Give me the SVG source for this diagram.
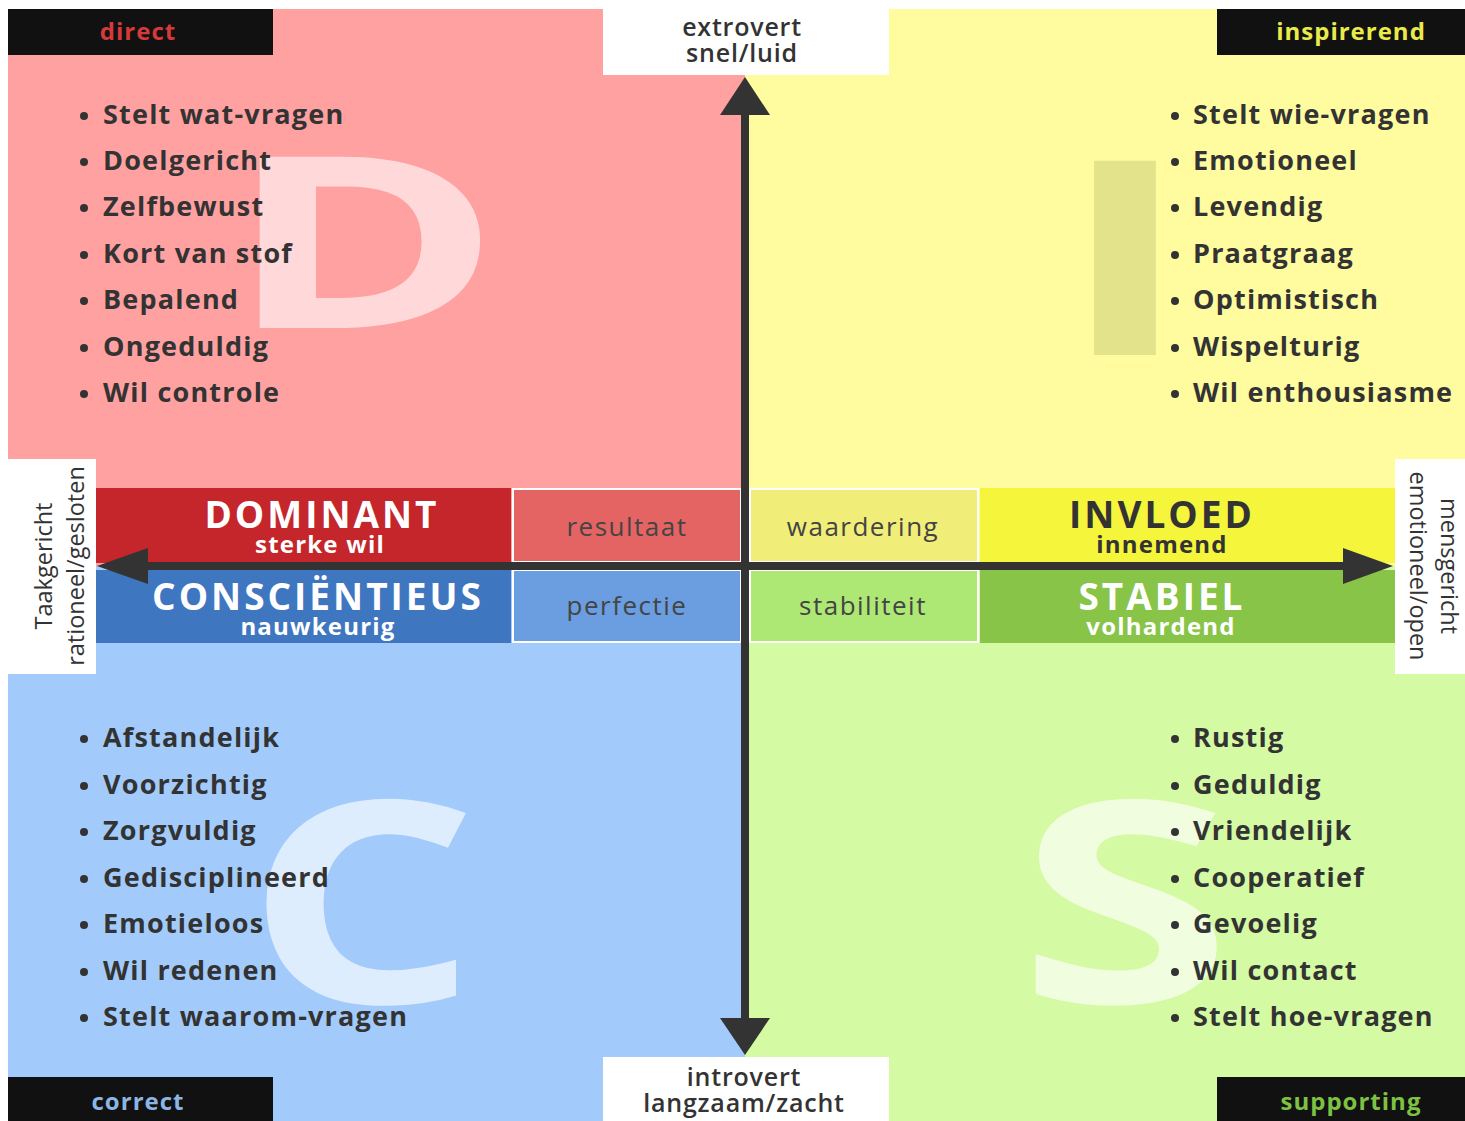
<svg xmlns="http://www.w3.org/2000/svg" width="1465" height="1121" viewBox="0 0 1465 1121">
<defs>
<style>
.li{font-family:"Open Sans",sans-serif;font-weight:700;font-size:27px;fill:#333;letter-spacing:1.2px}
.dot{fill:#333}
.big{font-family:"Open Sans",sans-serif;font-weight:700;fill:#fff;text-anchor:middle}
.tag{font-family:"Open Sans",sans-serif;font-weight:700;font-size:24px;text-anchor:middle;letter-spacing:1px}
.ax{font-family:"Open Sans",sans-serif;font-weight:600;font-size:25px;fill:#333;text-anchor:middle;letter-spacing:0.8px}
.side{font-family:"Open Sans",sans-serif;font-weight:400;font-size:23.5px;fill:#333;text-anchor:middle}
.hd{font-family:"Open Sans",sans-serif;font-weight:700;font-size:37px;text-anchor:middle;letter-spacing:3px}
.sub{font-family:"Open Sans",sans-serif;font-weight:700;font-size:24px;text-anchor:middle;letter-spacing:1.2px}
.mid{font-family:"Open Sans",sans-serif;font-weight:400;font-size:26px;fill:#444;text-anchor:middle;letter-spacing:1.5px}
.mbox{stroke:#fff;stroke-width:2}
</style>
</defs>
<rect width="1465" height="1121" fill="#fff"/>
<g id="quadrants">
<rect x="8" y="9" width="737" height="557" fill="#FFA1A1"/>
<rect x="745" y="9" width="720" height="557" fill="#FFFB9F"/>
<rect x="8" y="566" width="737" height="555" fill="#A2CBFB"/>
<rect x="745" y="566" width="720" height="555" fill="#D4FAA3"/>
</g>
<g id="letters">
<text class="big" x="364" y="328" font-size="240" fill-opacity="0.6" transform="translate(364 0) scale(1.55 1) translate(-364 0)">D</text>
<text x="1125" y="355" font-family="Open Sans, sans-serif" font-weight="700" font-size="272" fill="#E3E38C" text-anchor="middle" transform="translate(1125 0) scale(1.5 1) translate(-1125 0)">I</text>
<text class="big" x="362" y="1003" font-size="282" fill-opacity="0.65" transform="translate(362 0) scale(1.3 1) translate(-362 0)">C</text>
<text class="big" x="1125" y="1003" font-size="282" fill-opacity="0.65" transform="translate(1125 0) scale(1.38 1) translate(-1125 0)">S</text>
</g>
<g id="corner-labels">
<g id="direct"><rect x="8" y="9" width="265" height="46" fill="#111"/><text class="tag" x="138" y="40" fill="#D6393A">direct</text></g>
<g id="inspirerend"><rect x="1217" y="9" width="248" height="46" fill="#111"/><text class="tag" x="1351" y="40" fill="#E9EB4A">inspirerend</text></g>
<g id="correct"><rect x="8" y="1077" width="265" height="44" fill="#111"/><text class="tag" x="138" y="1110" fill="#8CB6E3">correct</text></g>
<g id="supporting"><rect x="1217" y="1077" width="248" height="44" fill="#111"/><text class="tag" x="1351" y="1110" fill="#7DC242">supporting</text></g>
</g>
<g id="list-d">
<g class="dot"><circle cx="84" cy="116" r="4"/><circle cx="84" cy="162" r="4"/><circle cx="84" cy="208" r="4"/><circle cx="84" cy="255" r="4"/><circle cx="84" cy="301" r="4"/><circle cx="84" cy="348" r="4"/><circle cx="84" cy="394" r="4"/></g>
<text class="li" x="103" y="124">Stelt wat-vragen</text>
<text class="li" x="103" y="170">Doelgericht</text>
<text class="li" x="103" y="216">Zelfbewust</text>
<text class="li" x="103" y="263">Kort van stof</text>
<text class="li" x="103" y="309">Bepalend</text>
<text class="li" x="103" y="356">Ongeduldig</text>
<text class="li" x="103" y="402">Wil controle</text>
</g>
<g id="list-i">
<g class="dot"><circle cx="1175" cy="116" r="4"/><circle cx="1175" cy="162" r="4"/><circle cx="1175" cy="208" r="4"/><circle cx="1175" cy="255" r="4"/><circle cx="1175" cy="301" r="4"/><circle cx="1175" cy="348" r="4"/><circle cx="1175" cy="394" r="4"/></g>
<text class="li" x="1193" y="124">Stelt wie-vragen</text>
<text class="li" x="1193" y="170">Emotioneel</text>
<text class="li" x="1193" y="216">Levendig</text>
<text class="li" x="1193" y="263">Praatgraag</text>
<text class="li" x="1193" y="309">Optimistisch</text>
<text class="li" x="1193" y="356">Wispelturig</text>
<text class="li" x="1193" y="402">Wil enthousiasme</text>
</g>
<g id="list-c">
<g class="dot"><circle cx="84" cy="739" r="4"/><circle cx="84" cy="786" r="4"/><circle cx="84" cy="832" r="4"/><circle cx="84" cy="879" r="4"/><circle cx="84" cy="925" r="4"/><circle cx="84" cy="972" r="4"/><circle cx="84" cy="1018" r="4"/></g>
<text class="li" x="103" y="747">Afstandelijk</text>
<text class="li" x="103" y="794">Voorzichtig</text>
<text class="li" x="103" y="840">Zorgvuldig</text>
<text class="li" x="103" y="887">Gedisciplineerd</text>
<text class="li" x="103" y="933">Emotieloos</text>
<text class="li" x="103" y="980">Wil redenen</text>
<text class="li" x="103" y="1026">Stelt waarom-vragen</text>
</g>
<g id="list-s">
<g class="dot"><circle cx="1175" cy="739" r="4"/><circle cx="1175" cy="786" r="4"/><circle cx="1175" cy="832" r="4"/><circle cx="1175" cy="879" r="4"/><circle cx="1175" cy="925" r="4"/><circle cx="1175" cy="972" r="4"/><circle cx="1175" cy="1018" r="4"/></g>
<text class="li" x="1193" y="747">Rustig</text>
<text class="li" x="1193" y="794">Geduldig</text>
<text class="li" x="1193" y="840">Vriendelijk</text>
<text class="li" x="1193" y="887">Cooperatief</text>
<text class="li" x="1193" y="933">Gevoelig</text>
<text class="li" x="1193" y="980">Wil contact</text>
<text class="li" x="1193" y="1026">Stelt hoe-vragen</text>
</g>
<g id="axis-labels">
<g id="top-label"><rect x="603" y="9" width="286" height="66" fill="#fff"/><text class="ax" x="742" y="36">extrovert</text><text class="ax" x="742" y="62">snel/luid</text></g>
<g id="bottom-label"><rect x="603" y="1057" width="286" height="64" fill="#fff"/><text class="ax" x="744" y="1086">introvert</text><text class="ax" x="744" y="1112">langzaam/zacht</text></g>
<g id="left-label"><rect x="8" y="459" width="88" height="215" fill="#fff"/><text class="side" transform="translate(44 566) rotate(-90)" y="8">Taakgericht</text><text class="side" transform="translate(76 566) rotate(-90)" y="8">rationeel/gesloten</text></g>
<g id="right-label"><rect x="1395" y="459" width="70" height="215" fill="#fff"/><text class="side" transform="translate(1449 566) rotate(90)" y="8">mensgericht</text><text class="side" transform="translate(1418 566) rotate(90)" y="8">emotioneel/open</text></g>
</g>
<g id="band">
<g id="dominant"><rect x="96" y="488" width="415" height="75" fill="#C4262B"/><text class="hd" x="322" y="528" fill="#fff">DOMINANT</text><text class="sub" x="320" y="553" fill="#fff">sterke wil</text></g>
<g id="conscientieus"><rect x="96" y="570" width="415" height="73" fill="#3F76C0"/><text class="hd" x="318" y="610" fill="#fff">CONSCIËNTIEUS</text><text class="sub" x="318" y="635" fill="#fff">nauwkeurig</text></g>
<g id="invloed"><rect x="980" y="488" width="415" height="75" fill="#F5F53C"/><text class="hd" x="1162" y="528" fill="#333">INVLOED</text><text class="sub" x="1162" y="553" fill="#333">innemend</text></g>
<g id="stabiel"><rect x="980" y="570" width="415" height="73" fill="#87C447"/><text class="hd" x="1162" y="610" fill="#fff">STABIEL</text><text class="sub" x="1161" y="635" fill="#fff">volhardend</text></g>
<g id="resultaat"><rect class="mbox" x="513" y="489" width="228" height="73" fill="#E46464"/><text class="mid" x="627" y="536">resultaat</text></g>
<g id="waardering"><rect class="mbox" x="750" y="489" width="228" height="73" fill="#F0EE78"/><text class="mid" x="863" y="536">waardering</text></g>
<g id="perfectie"><rect class="mbox" x="513" y="570" width="228" height="72" fill="#6A9EE0"/><text class="mid" x="627" y="615">perfectie</text></g>
<g id="stabiliteit"><rect class="mbox" x="750" y="570" width="228" height="72" fill="#ADE874"/><text class="mid" x="863" y="615">stabiliteit</text></g>
</g>
<g id="connectors" fill="#333">
<rect x="741" y="110" width="8" height="912"/>
<polygon points="745,77 770,115 720,115"/>
<polygon points="745,1055 770,1018 720,1018"/>
<rect x="140" y="562" width="1210" height="8"/>
<polygon points="97,566 148,548 148,584"/>
<polygon points="1393,566 1343,548 1343,584"/>
</g>
</svg>
